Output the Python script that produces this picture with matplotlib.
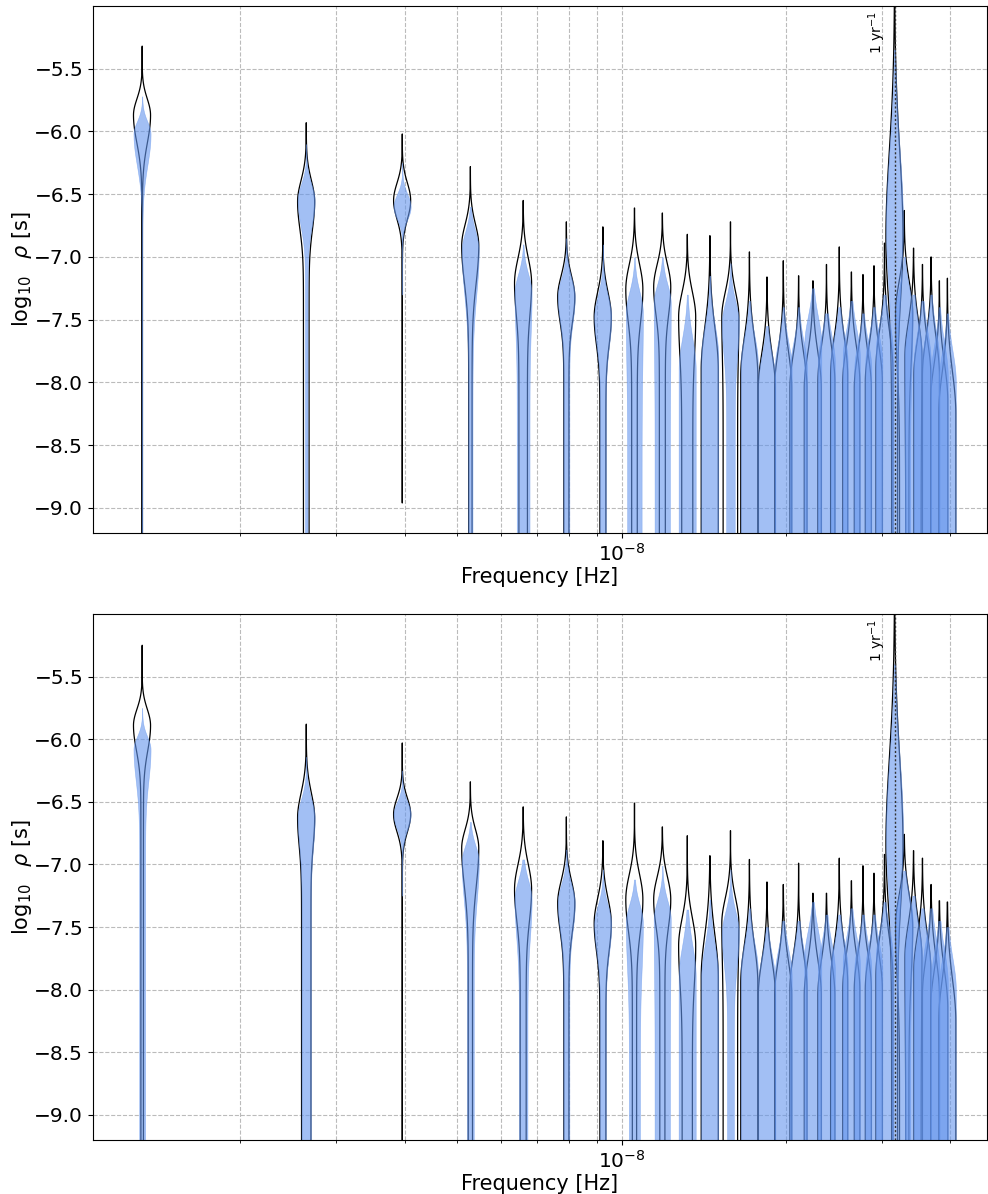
import numpy as np
import matplotlib
matplotlib.use('Agg')
import matplotlib.pyplot as plt

# frequency bins k / T, T = 24 yr
YEAR = 365.25 * 86400.0
T_SPAN = 24 * YEAR
harmonics = np.arange(1, 31)
freqs = harmonics / T_SPAN
f_yr = 1.0 / YEAR

# violin shape summaries (log10 rho)
# top panel, black outline
tk_top = [-5.32, -5.93, -6.02, -6.28, -6.55, -6.72, -6.76, -6.61, -6.65, -6.82, -6.83, -6.72, -6.96, -7.16, -7.03,
          -7.15, -7.19, -7.06, -6.92, -7.12, -7.14, -7.07, -6.89, -4.90, -6.63, -6.93, -7.06, -7.00, -7.19, -7.17]
tk_mode = [-5.87, -6.56, -6.55, -6.91, -7.21, -7.32, -7.48, -7.26, -7.24, -7.48, -7.90, -7.48, -7.95, -8.05, -8.05,
           -8.05, -8.05, -8.00, -7.95, -8.00, -8.05, -8.00, -7.90, -6.85, -7.45, -7.80, -7.95, -7.95, -8.15, -8.25]
tk_su = [0.13, 0.17, 0.14, 0.17, 0.20, 0.17, 0.20, 0.20, 0.18, 0.20, 0.33, 0.20, 0.30, 0.28, 0.30,
         0.28, 0.28, 0.28, 0.30, 0.28, 0.28, 0.28, 0.30, 0.70, 0.25, 0.28, 0.28, 0.30, 0.30, 0.33]
tk_sl = [0.22, 0.22, 0.15, 0.30, 0.25, 0.20, 0.22, 0.25, 0.22, 0.30, 0.50, 0.30, 0.50, 0.50, 0.50,
         0.50, 0.50, 0.50, 0.50, 0.50, 0.50, 0.50, 0.50, 0.45, 0.40, 0.50, 0.50, 0.50, 0.50, 0.50]
tk_floor = [0.03, 0.33, 0.01, 0.20, 0.50, 0.30, 0.35, 0.33, 0.35, 0.65, 1.0, 0.85, 1.0, 1.0, 1.0,
            1.0, 1.0, 1.0, 1.0, 1.0, 1.0, 1.0, 1.0, 0.35, 0.55, 0.90, 1.0, 1.0, 1.0, 1.0]
tk_min = [-9.6, -9.6, -8.96] + [-9.6] * 27

# top panel, blue fill
tb_top = [-5.72, -6.10, -6.25, -6.60, -6.90, -6.85, -6.90, -7.00, -7.00, -7.30, -7.15, -7.05, -7.35, -7.55, -7.40,
          -7.40, -7.25, -7.45, -7.40, -7.35, -7.45, -7.40, -7.30, -5.35, -7.00, -7.30, -7.35, -7.30, -7.40, -7.45]
tb_mode = [-6.02, -6.55, -6.60, -6.95, -7.29, -7.32, -7.48, -7.45, -7.37, -7.90, -7.80, -7.53, -7.85, -8.00, -7.90,
           -7.90, -7.70, -7.85, -7.85, -7.80, -7.90, -7.85, -7.75, -6.75, -7.45, -7.80, -7.85, -7.85, -7.95, -8.00]
tb_su = [0.10, 0.13, 0.10, 0.15, 0.15, 0.15, 0.17, 0.17, 0.15, 0.25, 0.25, 0.17, 0.22, 0.22, 0.22,
         0.22, 0.22, 0.22, 0.22, 0.22, 0.22, 0.22, 0.22, 0.60, 0.20, 0.25, 0.25, 0.25, 0.25, 0.25]
tb_sl = [0.25, 0.20, 0.10, 0.35, 0.30, 0.20, 0.22, 0.40, 0.40, 0.50, 0.50, 0.25, 0.50, 0.50, 0.50,
         0.50, 0.50, 0.50, 0.50, 0.50, 0.50, 0.50, 0.50, 0.45, 0.40, 0.50, 0.50, 0.50, 0.50, 0.50]
tb_floor = [0.02, 0.15, 0.0, 0.25, 0.75, 0.35, 0.35, 0.85, 0.90, 1.0, 1.0, 0.50, 1.0, 1.0, 1.0,
            1.0, 1.0, 1.0, 1.0, 1.0, 1.0, 1.0, 1.0, 0.35, 0.70, 1.0, 1.0, 1.0, 1.0, 1.0]
tb_min = [-9.6, -9.6, -7.30] + [-9.6] * 27

# bottom panel, black outline
bk_top = [-5.25, -5.88, -6.03, -6.34, -6.54, -6.62, -6.81, -6.51, -6.70, -6.77, -6.93, -6.73, -6.96, -7.14, -7.16,
          -6.99, -7.23, -7.23, -6.95, -7.13, -7.01, -7.07, -6.92, -4.90, -6.76, -6.89, -6.95, -7.16, -7.29, -7.30]
bk_mode = [-5.89, -6.63, -6.60, -6.87, -7.20, -7.31, -7.47, -7.28, -7.28, -7.65, -7.90, -7.47, -7.95, -8.05, -8.05,
           -8.00, -8.05, -8.05, -7.95, -8.00, -8.00, -8.00, -7.90, -6.85, -7.50, -7.75, -7.85, -8.05, -8.15, -8.25]
bk_su = [0.13, 0.20, 0.13, 0.15, 0.20, 0.18, 0.20, 0.20, 0.18, 0.22, 0.33, 0.20, 0.30, 0.28, 0.28,
         0.28, 0.28, 0.28, 0.30, 0.28, 0.28, 0.28, 0.30, 0.70, 0.25, 0.28, 0.28, 0.30, 0.30, 0.33]
bk_sl = [0.20, 0.22, 0.14, 0.30, 0.25, 0.22, 0.22, 0.25, 0.22, 0.30, 0.50, 0.30, 0.50, 0.50, 0.50,
         0.50, 0.50, 0.50, 0.50, 0.50, 0.50, 0.50, 0.50, 0.45, 0.40, 0.50, 0.50, 0.50, 0.50, 0.50]
bk_floor = [0.15, 0.55, 0.01, 0.25, 0.35, 0.30, 0.35, 0.25, 0.30, 0.60, 1.0, 0.85, 1.0, 1.0, 1.0,
            1.0, 1.0, 1.0, 1.0, 1.0, 1.0, 1.0, 1.0, 0.35, 0.55, 0.90, 1.0, 1.0, 1.0, 1.0]
bk_min = [-9.6] * 30

# bottom panel, blue fill
bb_top = [-5.75, -6.14, -6.25, -6.66, -6.96, -6.88, -7.04, -7.12, -7.01, -7.36, -7.28, -7.04, -7.35, -7.50, -7.45,
          -7.45, -7.30, -7.40, -7.40, -7.35, -7.40, -7.40, -7.30, -5.40, -7.05, -7.25, -7.35, -7.35, -7.45, -7.50]
bb_mode = [-6.08, -6.63, -6.60, -6.98, -7.28, -7.31, -7.48, -7.47, -7.44, -7.90, -7.90, -7.55, -7.85, -7.95, -7.90,
           -7.90, -7.75, -7.85, -7.85, -7.80, -7.85, -7.85, -7.75, -6.75, -7.45, -7.75, -7.85, -7.85, -7.95, -8.00]
bb_su = [0.10, 0.15, 0.10, 0.13, 0.15, 0.15, 0.15, 0.15, 0.15, 0.25, 0.25, 0.17, 0.22, 0.22, 0.22,
         0.22, 0.22, 0.22, 0.22, 0.22, 0.22, 0.22, 0.22, 0.60, 0.20, 0.25, 0.25, 0.25, 0.25, 0.25]
bb_sl = [0.25, 0.22, 0.12, 0.30, 0.30, 0.22, 0.22, 0.35, 0.40, 0.50, 0.50, 0.25, 0.50, 0.50, 0.50,
         0.50, 0.50, 0.50, 0.50, 0.50, 0.50, 0.50, 0.50, 0.45, 0.40, 0.50, 0.50, 0.50, 0.50, 0.50]
bb_floor = [0.35, 0.55, 0.0, 0.40, 0.50, 0.35, 0.35, 0.65, 0.90, 1.0, 1.0, 0.40, 1.0, 1.0, 1.0,
            1.0, 1.0, 1.0, 1.0, 1.0, 1.0, 1.0, 1.0, 0.35, 0.70, 1.0, 1.0, 1.0, 1.0, 1.0]
bb_min = [-9.6, -9.6, -7.25] + [-9.6] * 27


def violin_stats(top, mode, su, sl, floor, vmin):
    stats = []
    for t, m, a, b, fl, lo in zip(top, mode, su, sl, floor, vmin):
        y = np.linspace(lo, t, 500)
        d = np.where(y >= m,
                     np.exp(-0.5 * ((y - m) / a) ** 2),
                     fl + (1 - fl) * np.exp(-0.5 * ((y - m) / b) ** 2))
        d = np.maximum(d, 1e-4)
        stats.append(dict(coords=y, vals=d, mean=m, median=m, min=lo, max=t))
    return stats


def draw_panel(ax, black, blue):
    widths = 0.072 * freqs
    vb = ax.violin(violin_stats(*black), positions=freqs, widths=widths, showextrema=False)
    for body in vb['bodies']:
        body.set_facecolor('none')
        body.set_edgecolor('black')
        body.set_linewidth(0.9)
        body.set_alpha(1)
    vf = ax.violin(violin_stats(*blue), positions=freqs, widths=widths, showextrema=False)
    for body in vf['bodies']:
        body.set_facecolor('cornflowerblue')
        body.set_edgecolor('cornflowerblue')
        body.set_linewidth(0.4)
        body.set_alpha(0.6)

    ax.axvline(f_yr, color='#333333', ls=(0, (1.5, 1.5)), lw=1.0)
    ax.annotate(r'1 yr$^{-1}$', xy=(f_yr, -5.0), xytext=(-5, -4), textcoords='offset points',
                rotation=90, ha='right', va='top', fontsize=10)
    ax.set_xscale('log')
    ax.set_xlim(1.0726e-9, 4.684e-8)
    ax.set_xticks([1e-8])
    ax.set_ylim(-9.2, -5.0)
    ax.set_yticks(np.arange(-9.0, -5.4, 0.5))
    ax.grid(True, which='both', axis='x', ls='--', color='#bbbbbb', lw=0.8)
    ax.grid(True, which='major', axis='y', ls='--', color='#bbbbbb', lw=0.8)
    ax.set_axisbelow(True)
    ax.tick_params(labelsize=14.5)
    ax.set_xlabel('Frequency [Hz]', fontsize=15, labelpad=2)
    ax.set_ylabel(r'$\log_{10}\ \ \rho$ [s]', fontsize=15)
    ax.yaxis.set_label_coords(-0.066, 0.5)


fig = plt.figure(figsize=(9.88, 11.94), dpi=100)
ax1 = fig.add_axes([0.0941, 0.5536, 0.905, 0.4414])
ax2 = fig.add_axes([0.0941, 0.0452, 0.905, 0.4406])

draw_panel(ax1, (tk_top, tk_mode, tk_su, tk_sl, tk_floor, tk_min),
           (tb_top, tb_mode, tb_su, tb_sl, tb_floor, tb_min))
draw_panel(ax2, (bk_top, bk_mode, bk_su, bk_sl, bk_floor, bk_min),
           (bb_top, bb_mode, bb_su, bb_sl, bb_floor, bb_min))

fig.savefig('out.png', dpi=100)
